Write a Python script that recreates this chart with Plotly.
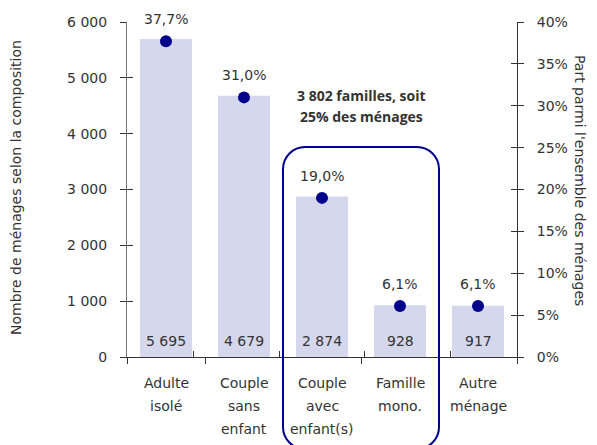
import plotly.graph_objects as go

# ---- data ----
categories = ["Adulte<br>isolé", "Couple<br>sans<br>enfant", "Couple<br>avec<br>enfant(s)",
              "Famille<br>mono.", "Autre<br>ménage"]
menages = [5695, 4679, 2874, 928, 917]
parts = [37.7, 31.0, 19.0, 6.1, 6.1]
left_ticks = [0, 1000, 2000, 3000, 4000, 5000, 6000]
right_ticks = [0, 5, 10, 15, 20, 25, 30, 35, 40]
note_lines = ["3 802 familles, soit", "25% des ménages"]
left_title = "Nombre de ménages selon la composition"
right_title = "Part parmi l'ensemble des ménages"

BAR = "#d5d8ed"
DOT = "#00008c"
TXT = "#333333"
FONT = "DejaVu Sans"
BOLD = "Open Sans"
FS = 14
OFF = 8  # page body margin
W, H = 597 - OFF, 445 - OFF
# target plot area in window pixels: x 127..517, y 22..357
ML, MT = 127 - OFF, 22 - OFF
MR = W - (517 - OFF)
MB = H - (357 - OFF)
PW, PH = W - ML - MR, H - MT - MB


def py(win_y):
    """window pixel y -> paper y"""
    return (357 - win_y) / PH


def px(win_x):
    return (win_x - 127) / PW


keys = [f"c{i}" for i in range(len(categories))]

fig = go.Figure()
fig.add_trace(go.Bar(x=keys, y=menages, marker=dict(color=BAR, line=dict(width=0)),
                     hoverinfo="skip", showlegend=False))
fig.add_trace(go.Scatter(x=keys, y=parts, yaxis="y2", mode="markers",
                         marker=dict(size=12, color=DOT), showlegend=False))
# invisible traces for the cross-tick overlay axes
fig.add_trace(go.Scatter(x=keys, y=menages, xaxis="x2", yaxis="y3", mode="markers",
                         marker=dict(opacity=0), hoverinfo="skip", showlegend=False))
fig.add_trace(go.Scatter(x=keys, y=parts, xaxis="x2", yaxis="y4", mode="markers",
                         marker=dict(opacity=0), hoverinfo="skip", showlegend=False))

ann = []
for k, v in zip(keys, menages):
    ann.append(dict(x=k, y=0, xref="x", yref="y", text=f"{v:,}".replace(",", " "),
                    showarrow=False, yanchor="middle", yshift=16,
                    font=dict(size=FS, color=TXT, family=FONT)))
for k, p in zip(keys, parts):
    ann.append(dict(x=k, y=p, xref="x", yref="y2", text=f"{p:.1f}%".replace(".", ","),
                    showarrow=False, yanchor="middle", yshift=22,
                    font=dict(size=FS, color=TXT, family=FONT)))
for k, c in zip(keys, categories):
    for j, line in enumerate(c.split("<br>")):
        ann.append(dict(x=k, y=0, xref="x", yref="paper", text=line, showarrow=False,
                        yanchor="middle", yshift=-26 - 23 * j,
                        font=dict(size=FS, color=TXT, family=FONT)))
for j, line in enumerate(note_lines):
    ann.append(dict(x=0.6, y=py(95 + 21 * j), xref="paper", yref="paper",
                    text=f"<b>{line}</b>", showarrow=False, xanchor="center",
                    yanchor="middle", font=dict(size=14, color=TXT, family=BOLD)))
ann.append(dict(x=px(16), y=py(188), xref="paper", yref="paper", text=left_title,
                showarrow=False, textangle=-90, xanchor="center", yanchor="middle",
                font=dict(size=FS, color=TXT, family=FONT)))
ann.append(dict(x=px(580), y=py(180), xref="paper", yref="paper",
                text=right_title, showarrow=False, textangle=90, xanchor="center",
                yanchor="middle", font=dict(size=FS, color=TXT, family=FONT)))

# rounded box around "Couple avec enfant(s)" and "Famille mono."
x0, x1 = 2 / len(categories), 4 / len(categories)
y1, y0 = py(147), py(449)
r = 22
rx, ry = r / PW, r / PH
kk = 0.5523
path = (f"M {x0+rx},{y1} L {x1-rx},{y1} "
        f"C {x1-rx+kk*rx},{y1} {x1},{y1-ry+kk*ry} {x1},{y1-ry} "
        f"L {x1},{y0+ry} "
        f"C {x1},{y0+ry-kk*ry} {x1-rx+kk*rx},{y0} {x1-rx},{y0} "
        f"L {x0+rx},{y0} "
        f"C {x0+rx-kk*rx},{y0} {x0},{y0+ry-kk*ry} {x0},{y0+ry} "
        f"L {x0},{y1-ry} "
        f"C {x0},{y1-ry+kk*ry} {x0+rx-kk*rx},{y1} {x0+rx},{y1} Z")

common = dict(automargin=False, showgrid=False, zeroline=False)

fig.update_layout(
    width=W, height=H,
    margin=dict(l=ML, r=MR, t=MT, b=MB, pad=0, autoexpand=False),
    paper_bgcolor="white", plot_bgcolor="white",
    separators=", ",
    bargap=1 / 3,
    font=dict(family=FONT, size=FS, color=TXT),
    annotations=ann,
    shapes=[dict(type="path", path=path, xref="paper", yref="paper",
                 line=dict(color=DOT, width=2), fillcolor="rgba(0,0,0,0)", layer="above")],
    xaxis=dict(type="category", categoryarray=keys, tickson="boundaries", ticks="outside",
               ticklen=6, tickcolor="#333", showticklabels=False, showline=True,
               linecolor="#333", linewidth=1, **common),
    xaxis2=dict(type="category", categoryarray=keys, overlaying="x", tickson="boundaries",
                ticks="inside", ticklen=6, tickcolor="#333", showticklabels=False,
                showline=False, side="bottom", **common),
    yaxis=dict(range=[0, 6000], tickvals=left_ticks,
               ticktext=[f"{v:,}".replace(",", " ") for v in left_ticks],
               ticks="outside", ticklen=6, tickcolor="#333", showline=True,
               linecolor="#777", linewidth=1, ticklabelstandoff=10,
               tickfont=dict(size=FS, color=TXT, family=FONT), **common),
    yaxis2=dict(range=[0, 40], tickvals=right_ticks, ticktext=[f"{v}%" for v in right_ticks],
                overlaying="y", side="right", ticks="outside", ticklen=6, tickcolor="#333",
                showline=True, linecolor="#333", linewidth=1, ticklabelstandoff=10,
                tickfont=dict(size=FS, color=TXT, family=FONT), **common),
    yaxis3=dict(range=[0, 6000], tickvals=left_ticks, overlaying="y", side="left",
                ticks="inside", ticklen=6, tickcolor="#333", showticklabels=False,
                showline=False, anchor="x", **common),
    yaxis4=dict(range=[0, 40], tickvals=right_ticks, overlaying="y", side="right",
                ticks="inside", ticklen=6, tickcolor="#333", showticklabels=False,
                showline=False, anchor="x", **common),
)

fig.write_html("out.html")
